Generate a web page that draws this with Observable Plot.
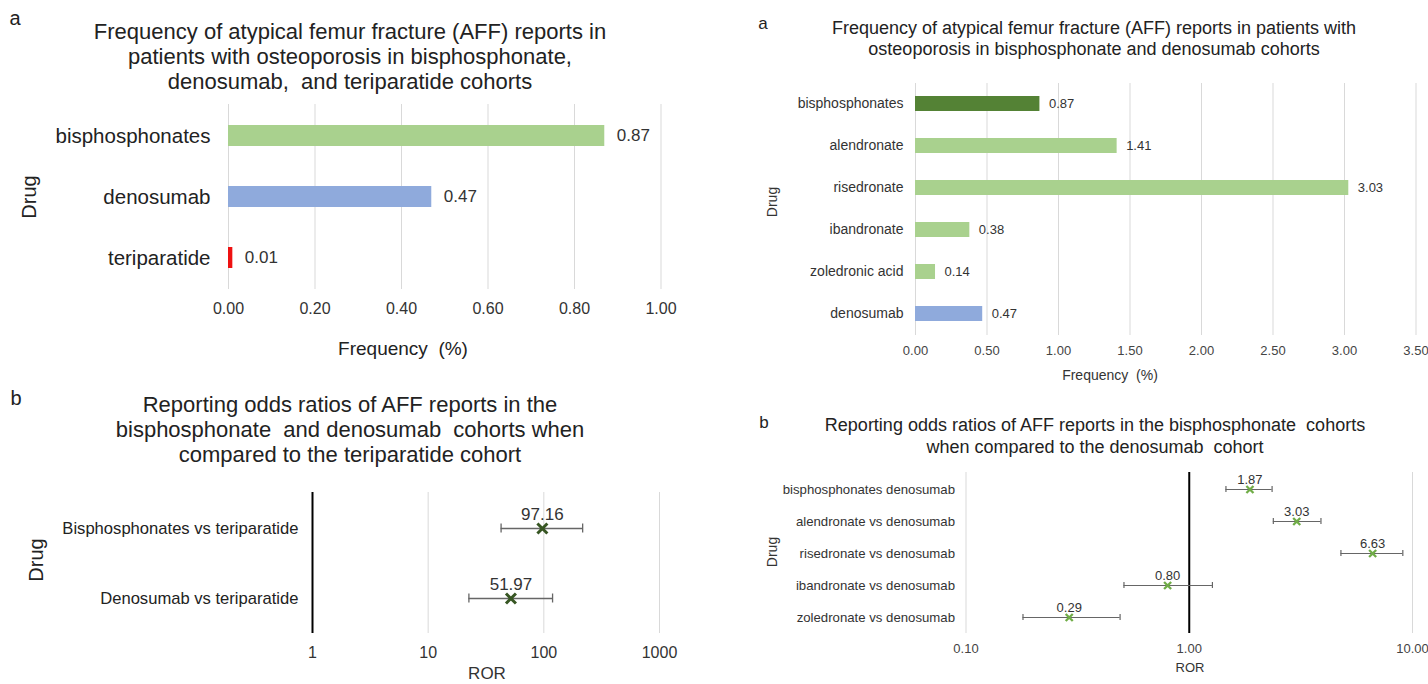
<!DOCTYPE html>
<html><head><meta charset="utf-8">
<script src="https://cdn.jsdelivr.net/npm/d3@7"></script>
<script src="https://cdn.jsdelivr.net/npm/@observablehq/plot@0.6"></script>
<style>
body{margin:0;background:#fff;}
#page{position:relative;width:1428px;height:684px;overflow:hidden;font-family:"Liberation Sans",Arial,sans-serif;color:#222;background:#fff;}
.t{position:absolute;transform:translate(-50%,-50%);white-space:pre;line-height:1;}
.r{position:absolute;transform:translate(-50%,-50%) rotate(-90deg);white-space:pre;line-height:1;}
.panel{position:absolute;}
.panel svg{overflow:visible;}
</style></head>
<body><div id="page"></div>
<script>
// ---------- data ----------
// Panel a (left): frequency of AFF reports
const tlDrugs = ["bisphosphonates", "denosumab", "teriparatide"];
const tlFreq = [0.87, 0.47, 0.01];
const tlTicks = [0, 0.2, 0.4, 0.6, 0.8, 1.0];

// Panel a (right): frequency by individual bisphosphonate
const trDrugs = ["bisphosphonates", "alendronate", "risedronate", "ibandronate", "zoledronic acid", "denosumab"];
const trFreq = [0.87, 1.41, 3.03, 0.38, 0.14, 0.47];
const trTicks = [0, 0.5, 1.0, 1.5, 2.0, 2.5, 3.0, 3.5];

// Panel b (left): ROR vs teriparatide
const blComparisons = ["Bisphosphonates vs teriparatide", "Denosumab vs teriparatide"];
const blROR = [97.16, 51.97];
const blLow = [42.7, 22.5];
const blHigh = [216.6, 119];
const blTicks = [1, 10, 100, 1000];

// Panel b (right): ROR vs denosumab
const brComparisons = ["bisphosphonates denosumab", "alendronate vs denosumab", "risedronate vs denosumab", "ibandronate vs denosumab", "zoledronate vs denosumab"];
const brROR = [1.87, 3.03, 6.63, 0.80, 0.29];
const brLow = [1.46, 2.38, 4.78, 0.51, 0.18];
const brHigh = [2.35, 3.89, 9.05, 1.27, 0.49];
const brTicks = [0.1, 1, 10];

// ---------- styles ----------
const FONT = '"Liberation Sans", Arial, sans-serif';
const LIGHT_GREEN = "#a9d18e", DARK_GREEN = "#548235", BLUE = "#8faadc", RED = "#ee1111";
const tlColor = {bisphosphonates: LIGHT_GREEN, denosumab: BLUE, teriparatide: RED};
const trColor = d => d === "bisphosphonates" ? DARK_GREEN : d === "denosumab" ? BLUE : LIGHT_GREEN;

const page = document.getElementById("page");
function txt(s, x, y, size, cls = "t", color = "#222") {
  const d = document.createElement("div");
  d.className = cls;
  d.style.left = x + "px"; d.style.top = y + "px";
  d.style.fontSize = size + "px"; d.style.color = color;
  d.textContent = s;
  page.appendChild(d);
}
function place(svg, left, top) {
  const w = document.createElement("div");
  w.className = "panel";
  w.style.left = left + "px"; w.style.top = top + "px";
  w.appendChild(svg);
  page.appendChild(w);
}

// ---------- panel TL ----------
const tlData = tlDrugs.map((drug, i) => ({drug, value: tlFreq[i]}));
place(Plot.plot({
  width: 700, height: 275, marginTop: 9, marginBottom: 81, marginLeft: 228, marginRight: 39.5,
  style: {fontFamily: FONT, background: "transparent", color: "#333"},
  x: {domain: [0, 1]},
  y: {domain: tlDrugs, paddingInner: 0.66, paddingOuter: 0.33},
  color: {type: "identity"},
  marks: [
    Plot.gridX({ticks: tlTicks, stroke: "#d9d9d9", strokeOpacity: 1, strokeWidth: 1}),
    Plot.barX(tlData, {x: "value", y: "drug", fill: d => tlColor[d.drug]}),
    Plot.text(tlData, {x: "value", y: "drug", text: d => d.value.toFixed(2), dx: 12, textAnchor: "start", fontSize: 17, fill: "#333"}),
    Plot.axisX({ticks: tlTicks, tickFormat: d => d.toFixed(2), tickSize: 0, tickPadding: 13, fontSize: 16, label: null, color: "#333"}),
    Plot.axisY({tickSize: 0, tickPadding: 18, fontSize: 20.5, label: null, color: "#222"})
  ]
}), 0, 95);

// ---------- panel TR ----------
const trData = trDrugs.map((drug, i) => ({drug, value: trFreq[i]}));
place(Plot.plot({
  width: 728, height: 330, marginTop: 13, marginBottom: 65, marginLeft: 215, marginRight: 12.5,
  style: {fontFamily: FONT, background: "transparent", color: "#333"},
  x: {domain: [0, 3.5]},
  y: {domain: trDrugs, paddingInner: 0.64, paddingOuter: 0.32},
  color: {type: "identity"},
  marks: [
    Plot.gridX({ticks: trTicks, stroke: "#d9d9d9", strokeOpacity: 1, strokeWidth: 1}),
    Plot.barX(trData, {x: "value", y: "drug", fill: d => trColor(d.drug)}),
    Plot.text(trData, {x: "value", y: "drug", text: d => d.value.toFixed(2), dx: 9, textAnchor: "start", fontSize: 13, fill: "#333"}),
    Plot.axisX({ticks: trTicks, tickFormat: d => d.toFixed(2), tickSize: 0, tickPadding: 10, fontSize: 13, label: null, color: "#444"}),
    Plot.axisY({tickSize: 0, tickPadding: 12, fontSize: 14, label: null, color: "#333"})
  ]
}), 700, 70);

// ---------- panel BL ----------
const blData = blComparisons.map((name, i) => ({name, ror: blROR[i], low: blLow[i], high: blHigh[i]}));
place(Plot.plot({
  width: 700, height: 214, marginTop: 22, marginBottom: 51, marginLeft: 312, marginRight: 41,
  style: {fontFamily: FONT, background: "transparent", color: "#333"},
  x: {type: "log", domain: [1, 1000]},
  y: {domain: blComparisons, padding: 0},
  marks: [
    Plot.gridX({ticks: [10, 100, 1000], stroke: "#d9d9d9", strokeOpacity: 1, strokeWidth: 1}),
    Plot.ruleX([1], {stroke: "#000", strokeWidth: 2}),
    Plot.ruleY(blData, {y: "name", x1: "low", x2: "high", stroke: "#666", strokeWidth: 1.3}),
    Plot.tickX(blData, {x: "low", y: "name", stroke: "#666", strokeWidth: 1.3, insetTop: 30.5, insetBottom: 30.5}),
    Plot.tickX(blData, {x: "high", y: "name", stroke: "#666", strokeWidth: 1.3, insetTop: 30.5, insetBottom: 30.5}),
    Plot.dot(blData, {x: "ror", y: "name", symbol: "times", r: 4.6, stroke: "#375623", strokeWidth: 3}),
    Plot.text(blData, {x: "ror", y: "name", text: d => d.ror.toFixed(2), dy: -14, fontSize: 17, fill: "#333"}),
    Plot.axisX({ticks: blTicks, tickFormat: d => String(d), tickSize: 0, tickPadding: 13, fontSize: 16, label: null, color: "#333"}),
    Plot.axisY({tickSize: 0, tickPadding: 14, fontSize: 16.6, label: null, color: "#222"})
  ]
}), 0, 470);

// ---------- panel BR ----------
const brData = brComparisons.map((name, i) => ({name, ror: brROR[i], low: brLow[i], high: brHigh[i]}));
place(Plot.plot({
  width: 728, height: 224, marginTop: 12, marginBottom: 51, marginLeft: 265.5, marginRight: 16,
  style: {fontFamily: FONT, background: "transparent", color: "#333"},
  x: {type: "log", domain: [0.1, 10]},
  y: {domain: brComparisons, padding: 0},
  marks: [
    Plot.gridX({ticks: [0.1, 10], stroke: "#d9d9d9", strokeOpacity: 1, strokeWidth: 1}),
    Plot.ruleX([1], {stroke: "#000", strokeWidth: 2}),
    Plot.ruleY(brData, {y: "name", x1: "low", x2: "high", stroke: "#666", strokeWidth: 1.2}),
    Plot.tickX(brData, {x: "low", y: "name", stroke: "#666", strokeWidth: 1.2, insetTop: 13, insetBottom: 13}),
    Plot.tickX(brData, {x: "high", y: "name", stroke: "#666", strokeWidth: 1.2, insetTop: 13, insetBottom: 13}),
    Plot.dot(brData, {x: "ror", y: "name", symbol: "times", r: 3.3, stroke: "#70ad47", strokeWidth: 2.3}),
    Plot.text(brData, {x: "ror", y: "name", text: d => d.ror.toFixed(2), dy: -10, fontSize: 13, fill: "#333"}),
    Plot.axisX({ticks: brTicks, tickFormat: d => d.toFixed(2), tickSize: 0, tickPadding: 10, fontSize: 13, label: null, color: "#444"}),
    Plot.axisY({tickSize: 0, tickPadding: 11, fontSize: 13.2, label: null, color: "#333"})
  ]
}), 700, 460);

// ---------- titles, panel letters, axis titles ----------
txt("a", 15, 18, 20);
txt("Frequency of atypical femur fracture (AFF) reports in", 350, 32, 22);
txt("patients with osteoporosis in bisphosphonate,", 350, 57, 22);
txt("denosumab,  and teriparatide cohorts", 350, 82, 22);
txt("Drug", 29, 197, 20, "r");
txt("Frequency  (%)", 403, 348, 19);

txt("a", 763, 23, 17);
txt("Frequency of atypical femur fracture (AFF) reports in patients with", 1094, 28, 18);
txt("osteoporosis in bisphosphonate and denosumab cohorts", 1094, 49, 18);
txt("Drug", 772, 202, 14, "r", "#333");
txt("Frequency  (%)", 1110, 375, 14, "t", "#333");

txt("b", 16, 398, 20);
txt("Reporting odds ratios of AFF reports in the", 350, 405, 22);
txt("bisphosphonate  and denosumab  cohorts when", 350, 430, 22);
txt("compared to the teriparatide cohort", 350, 455, 22);
txt("Drug", 36, 560, 20, "r");
txt("ROR", 487, 673, 17, "t", "#333");

txt("b", 764, 422, 17);
txt("Reporting odds ratios of AFF reports in the bisphosphonate  cohorts", 1095, 425, 18);
txt("when compared to the denosumab  cohort", 1095, 447, 18);
txt("Drug", 772, 552, 14, "r", "#333");
txt("ROR", 1190, 667, 13, "t", "#333");
</script>
</body></html>
